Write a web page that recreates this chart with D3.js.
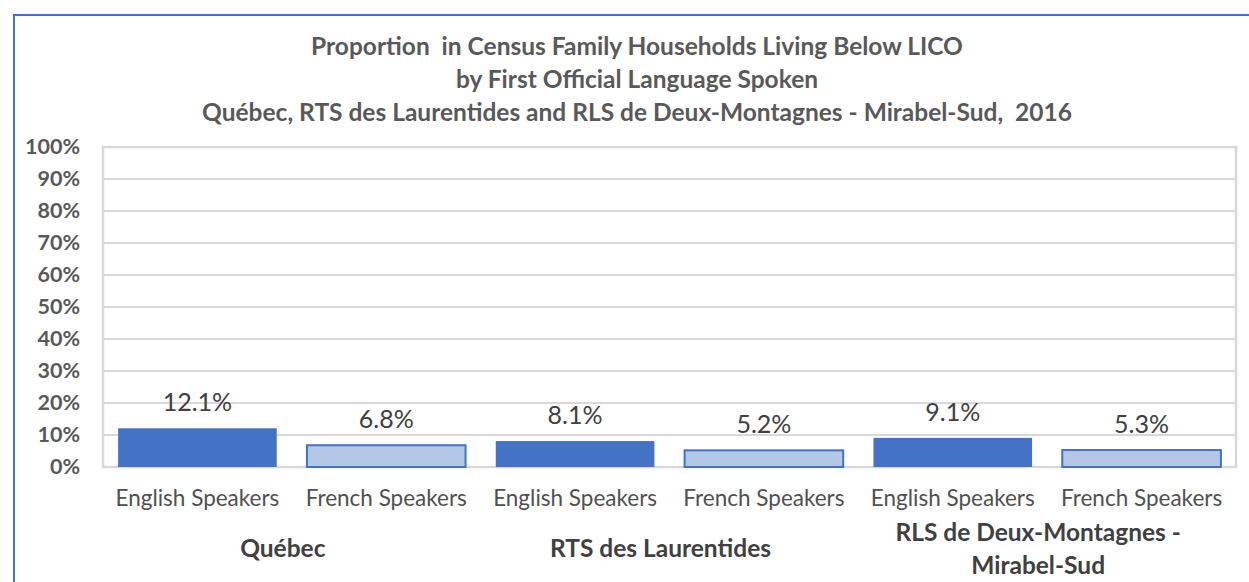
<!DOCTYPE html>
<html>
<head>
<meta charset="utf-8">
<script src="https://cdn.jsdelivr.net/npm/d3@7"></script>
<style>
  body { margin: 0; background: #fff; }
  svg text { font-family: Lato, "Open Sans", sans-serif; white-space: pre; }
</style>
</head>
<body>
<div id="chart"></div>
<script>
// Données
const regions = ["Québec", "RTS des Laurentides", "RLS de Deux-Montagnes - Mirabel-Sud"];
const regionLines = [["Québec"], ["RTS des Laurentides"], ["RLS de Deux-Montagnes -", "Mirabel-Sud"]];
const speakers = ["English Speakers", "French Speakers"];
const values = [12.1, 6.8, 8.1, 5.2, 9.1, 5.3];
const yTicks = [0, 10, 20, 30, 40, 50, 60, 70, 80, 90, 100];
const titleLines = [
    "Proportion  in Census Family Households Living Below LICO",
    "by First Official Language Spoken",
    "Québec, RTS des Laurentides and RLS de Deux-Montagnes - Mirabel-Sud,  2016"
];

const W = 1249, H = 582;
const margin = { top: 147, right: 13, bottom: 115, left: 103 };
const width = W - margin.left - margin.right;
const height = H - margin.top - margin.bottom;

const svg = d3.select("#chart").append("svg")
    .attr("width", W)
    .attr("height", H);

// Cadre extérieur bleu
svg.append("rect")
    .attr("x", 14).attr("y", 15)
    .attr("width", W + 20).attr("height", H + 20)
    .attr("fill", "none")
    .attr("stroke", "#4472c4")
    .attr("stroke-width", 2);

// Titre
svg.append("text")
    .attr("x", 637)
    .attr("text-anchor", "middle")
    .attr("font-size", 24.5)
    .attr("font-weight", "bold")
    .attr("fill", "#595959")
    .selectAll("tspan")
    .data(titleLines)
    .enter()
    .append("tspan")
    .attr("x", 637)
    .attr("y", (d, i) => 55 + i * 33)
    .text(d => d);

const g = svg.append("g")
    .attr("transform", `translate(${margin.left},${margin.top})`);

// Échelles
const cats = d3.range(values.length);
const x = d3.scaleBand()
    .domain(cats)
    .range([0, width])
    .paddingInner(0.16)
    .paddingOuter(0.08);

const y = d3.scaleLinear()
    .domain([0, 100])
    .range([height, 0]);

// Grille
g.selectAll(".grid")
    .data(yTicks)
    .enter()
    .append("line")
    .attr("x1", 0).attr("x2", width)
    .attr("y1", d => y(d)).attr("y2", d => y(d))
    .attr("stroke", "#d9d9d9")
    .attr("stroke-width", 2);

// Bordure de la zone de tracé
g.append("rect")
    .attr("x", 0).attr("y", 0)
    .attr("width", width).attr("height", height)
    .attr("fill", "none")
    .attr("stroke", "#d9d9d9")
    .attr("stroke-width", 2.5);

// Axe Y
const yAxis = g.append("g")
    .call(d3.axisLeft(y).tickValues(yTicks).tickFormat(d => d + "%").tickSize(0).tickPadding(23));
yAxis.select(".domain").remove();
yAxis.selectAll("text")
    .attr("font-family", "Lato, Open Sans, sans-serif")
    .attr("font-size", 21.5)
    .attr("font-weight", "bold")
    .attr("fill", "#595959");

// Barres
g.selectAll(".bar")
    .data(values)
    .enter()
    .append("rect")
    .attr("class", "bar")
    .attr("x", (d, i) => x(i))
    .attr("y", d => y(d))
    .attr("width", x.bandwidth())
    .attr("height", d => height - y(d))
    .attr("fill", (d, i) => i % 2 === 0 ? "#4472c4" : "#b4c7e7")
    .attr("stroke", (d, i) => i % 2 === 0 ? "none" : "#4472c4")
    .attr("stroke-width", 2);

// Étiquettes de données
g.selectAll(".label")
    .data(values)
    .enter()
    .append("text")
    .attr("x", (d, i) => x(i) + x.bandwidth() / 2)
    .attr("y", d => y(d) - 17)
    .attr("text-anchor", "middle")
    .attr("font-size", 25)
    .attr("fill", "#404040")
    .text(d => d.toFixed(1) + "%");

// Libellés des catégories
g.selectAll(".cat")
    .data(values)
    .enter()
    .append("text")
    .attr("x", (d, i) => x(i) + x.bandwidth() / 2)
    .attr("y", height + 39)
    .attr("text-anchor", "middle")
    .attr("font-size", 22.5)
    .attr("fill", "#505050")
    .text((d, i) => speakers[i % 2]);

// Libellés des régions (légèrement décalés à gauche comme dans Excel)
regionLines.forEach((lines, k) => {
    const cx = (x(k * 2) + x(k * 2 + 1) + x.bandwidth()) / 2 - 9;
    const y0 = lines.length === 1 ? height + 90 : height + 74;
    const t = g.append("text")
        .attr("text-anchor", "middle")
        .attr("font-size", 24.5)
        .attr("font-weight", "bold")
        .attr("fill", "#404040");
    lines.forEach((l, j) => {
        t.append("tspan").attr("x", cx).attr("y", y0 + j * 33).text(l);
    });
});
</script>
</body>
</html>
